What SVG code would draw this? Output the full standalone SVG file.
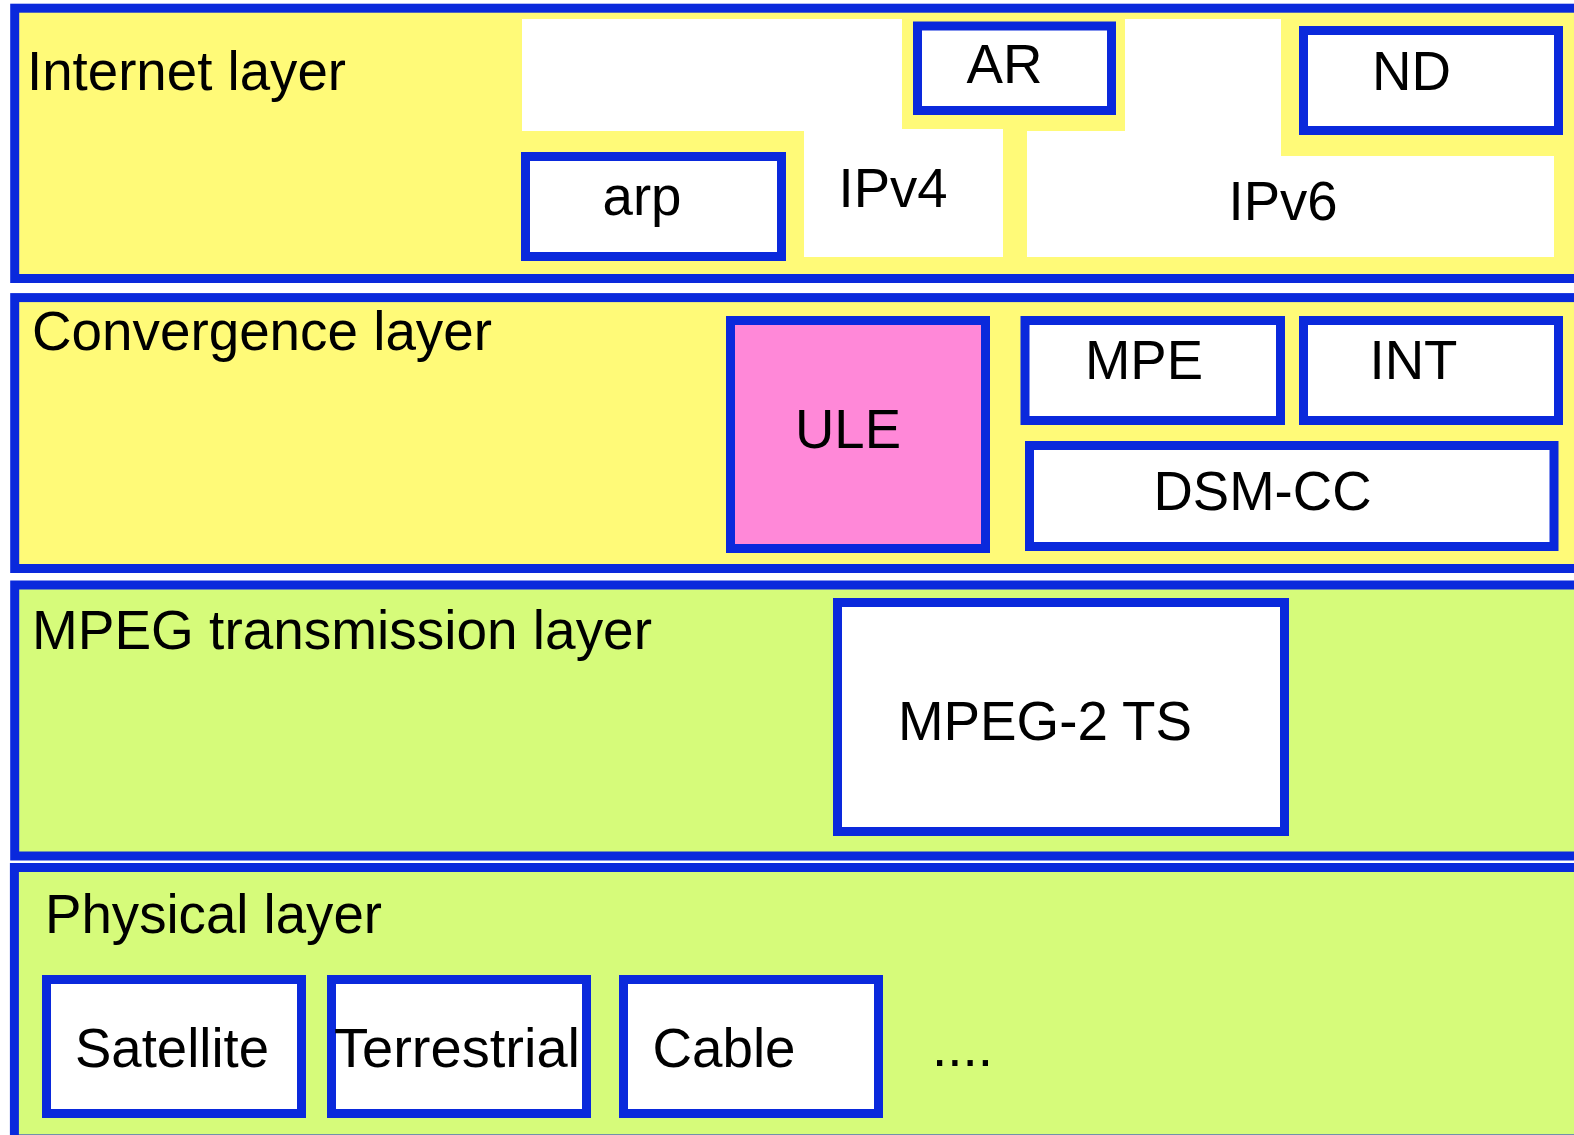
<svg xmlns="http://www.w3.org/2000/svg" width="1574" height="1135" viewBox="0 0 1574 1135">
  <style>
    .layer { stroke: #0a29dc; stroke-width: 9; }
    .yellow { fill: #fffa78; }
    .green { fill: #d6fb7a; }
    .box { fill: #ffffff; stroke: #0a29dc; stroke-width: 9; }
    .ule { fill: #ff88d8; stroke: #0a29dc; stroke-width: 9; }
    .area { fill: #ffffff; }
    text { font-family: "Liberation Sans", Arial, Helvetica, sans-serif; font-size: 56px; fill: #000000; }
    .mid { text-anchor: middle; }
  </style>
  <rect width="1574" height="1135" fill="#ffffff"/>

  <!-- Internet layer -->
  <g id="internet-layer">
    <rect class="layer yellow" x="14.7" y="8.2" width="1600" height="270.3"/>
    <text x="27" y="90" textLength="319" lengthAdjust="spacingAndGlyphs">Internet layer</text>
  </g>
  <g id="ipv4">
    <polygon class="area" points="522,19 902,19 902,129 1003,129 1003,257 804,257 804,131 522,131"/>
    <text class="mid" x="893" y="207" textLength="109" lengthAdjust="spacingAndGlyphs">IPv4</text>
  </g>
  <g id="ipv6">
    <polygon class="area" points="1125,19 1281,19 1281,156 1554,156 1554,257 1027,257 1027,131 1125,131"/>
    <text class="mid" x="1283" y="220" textLength="109" lengthAdjust="spacingAndGlyphs">IPv6</text>
  </g>
  <g id="arp">
    <rect class="box" x="525.5" y="156.5" width="256" height="100"/>
    <text class="mid" x="642" y="215" textLength="79" lengthAdjust="spacingAndGlyphs">arp</text>
  </g>
  <g id="ar">
    <rect class="box" x="917.5" y="26" width="194" height="84.5"/>
    <text class="mid" x="1004.5" y="83" textLength="76" lengthAdjust="spacingAndGlyphs">AR</text>
  </g>
  <g id="nd">
    <rect class="box" x="1303.5" y="30.5" width="255" height="100"/>
    <text class="mid" x="1411.5" y="90" textLength="79" lengthAdjust="spacingAndGlyphs">ND</text>
  </g>

  <!-- Convergence layer -->
  <g id="convergence-layer">
    <rect class="layer yellow" x="14.7" y="297.6" width="1600" height="270.9"/>
    <text x="32" y="350" textLength="460" lengthAdjust="spacingAndGlyphs">Convergence layer</text>
  </g>
  <g id="ule">
    <rect class="ule" x="730.5" y="320.5" width="255" height="228"/>
    <text class="mid" x="848" y="448" textLength="106" lengthAdjust="spacingAndGlyphs">ULE</text>
  </g>
  <g id="mpe">
    <rect class="box" x="1025" y="320.5" width="255.5" height="100"/>
    <text class="mid" x="1144" y="379" textLength="118" lengthAdjust="spacingAndGlyphs">MPE</text>
  </g>
  <g id="int">
    <rect class="box" x="1303.5" y="320.5" width="255" height="100"/>
    <text class="mid" x="1413.5" y="379" textLength="88" lengthAdjust="spacingAndGlyphs">INT</text>
  </g>
  <g id="dsm-cc">
    <rect class="box" x="1029.5" y="445.5" width="524.5" height="101"/>
    <text class="mid" x="1262.5" y="510" textLength="218" lengthAdjust="spacingAndGlyphs">DSM-CC</text>
  </g>

  <!-- MPEG transmission layer -->
  <g id="mpeg-layer">
    <rect class="layer green" x="14.7" y="585" width="1600" height="271"/>
    <text x="32" y="649" textLength="620" lengthAdjust="spacingAndGlyphs">MPEG transmission layer</text>
  </g>
  <g id="mpeg2-ts">
    <rect class="box" x="837.5" y="602.5" width="447" height="229"/>
    <text class="mid" x="1045" y="740" textLength="294" lengthAdjust="spacingAndGlyphs">MPEG-2 TS</text>
  </g>

  <!-- Physical layer -->
  <g id="physical-layer">
    <rect class="layer green" x="14.4" y="867.5" width="1600" height="271.5"/>
    <text x="45" y="933" textLength="337" lengthAdjust="spacingAndGlyphs">Physical layer</text>
    <text x="932" y="1066" textLength="61" lengthAdjust="spacingAndGlyphs">....</text>
  </g>
  <g id="satellite">
    <rect class="box" x="46.5" y="979.5" width="255" height="134"/>
    <text class="mid" x="172" y="1067" textLength="194" lengthAdjust="spacingAndGlyphs">Satellite</text>
  </g>
  <g id="terrestrial">
    <rect class="box" x="331.5" y="979.5" width="255" height="134"/>
    <text class="mid" x="457" y="1067" textLength="246" lengthAdjust="spacingAndGlyphs">Terrestrial</text>
  </g>
  <g id="cable">
    <rect class="box" x="623.5" y="979.5" width="255" height="134"/>
    <text class="mid" x="724" y="1067" textLength="143" lengthAdjust="spacingAndGlyphs">Cable</text>
  </g>

  <!-- no connectors between layers -->
  <g id="connectors"/>
</svg>
